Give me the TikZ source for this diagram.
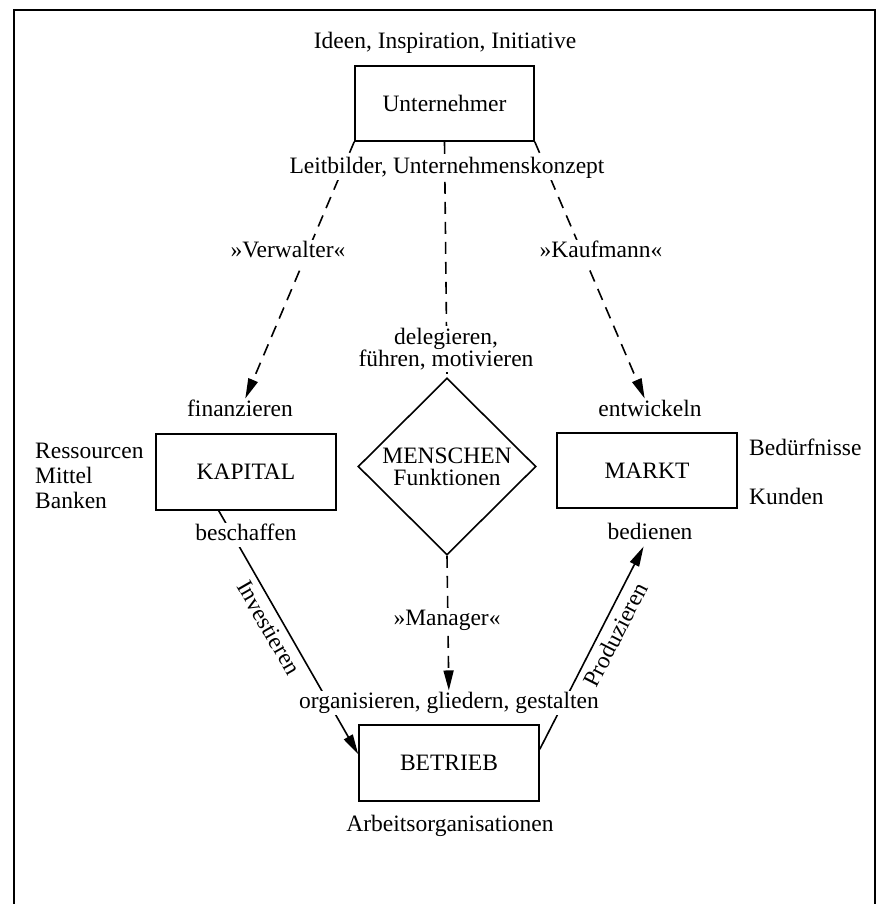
\documentclass[tikz,border=0pt]{standalone}
\usepackage{fontspec}
\setmainfont{Liberation Serif}
\usetikzlibrary{shapes.geometric,arrows.meta,calc,backgrounds}
\begin{document}
\begin{tikzpicture}[x=1pt,y=1pt,
  font=\fontsize{23.5}{24}\selectfont,
  box/.style={draw, line width=1.6pt, inner sep=0pt},
  lab/.style={fill=white, inner sep=2pt, text height=16pt, text depth=4.7pt},
  mlab/.style={fill=white, inner sep=2pt},
  dsh/.style={line width=1.6pt, dash pattern=on 12pt off 8pt},
  sol/.style={line width=1.6pt},
  tip/.style={-{Triangle[length=20pt,width=10pt]}}
]
\useasboundingbox (0,0) rectangle (881,-904);

\node[lab] (ideen) at (445,-43) {Ideen, Inspiration, Initiative};
\node[box, minimum width=179pt, minimum height=75pt] (unt) at (444.5,-103.5) {Unternehmer};
\node[lab] (leit) at (447,-168) {Leitbilder, Unternehmenskonzept};
\node[lab] (verw) at (288,-252) {»Verwalter«};
\node[lab] (kauf) at (601,-252) {»Kaufmann«};
\node[mlab, align=center, font=\fontsize{23.5}{22.5}\selectfont] (deleg) at (446,-349) {delegieren,\\führen, motivieren};
\node[lab] (fin) at (240,-411) {finanzieren};
\node[lab] (ent) at (650,-411) {entwickeln};
\node[box, minimum width=180pt, minimum height=76pt] (kap) at (246,-472) {KAPITAL};
\node[box, minimum width=180pt, minimum height=75pt] (markt) at (647,-470.5) {MARKT};
\node[draw, diamond, line width=1.6pt, aspect=1, inner sep=0pt,
      minimum width=178pt, minimum height=177pt, align=center,
      font=\fontsize{23.5}{22}\selectfont] (mens) at (447,-466.5) {MENSCHEN\\Funktionen};
\node[mlab, anchor=west, align=left, font=\fontsize{23.5}{25}\selectfont] (ress) at (33,-476) {Ressourcen\\Mittel\\Banken};
\node[lab, anchor=west] (bed) at (747,-450) {Bedürfnisse};
\node[lab, anchor=west] (kun) at (747,-499) {Kunden};
\node[lab] (besch) at (246,-535) {beschaffen};
\node[lab] (bedien) at (650,-534) {bedienen};
\node[lab] (man) at (447,-620) {»Manager«};
\node[lab] (org) at (449,-703) {organisieren, gliedern, gestalten};
\node[box, minimum width=180pt, minimum height=76pt] (bet) at (449,-763) {BETRIEB};
\node[lab] (arb) at (450,-826) {Arbeitsorganisationen};

\begin{scope}[on background layer]
\draw[dsh, tip] (unt.south west) -- (fin);
\draw[dsh, tip] (unt.south east) -- (ent);
\draw[dsh] (unt.south) -- (mens.north);
\draw[dsh, tip] (mens.south) -- (org);
\draw[sol, tip] ($(kap.south west)!0.35!(kap.south east)$) --
  node[pos=0.45, sloped, below, inner sep=6pt] (inv) {Investieren}
  ($(bet.north west)+(0,-30)$);
\draw[sol, tip] ($(bet.north east)+(0,-25)$) --
  node[pos=0.6, sloped, below, inner sep=6pt] (prod) {Produzieren}
  (bedien);
\end{scope}

\draw[line width=2.2pt] (14,-904) -- (14,-10) -- (875,-10) -- (875,-904);
\end{tikzpicture}
\end{document}
